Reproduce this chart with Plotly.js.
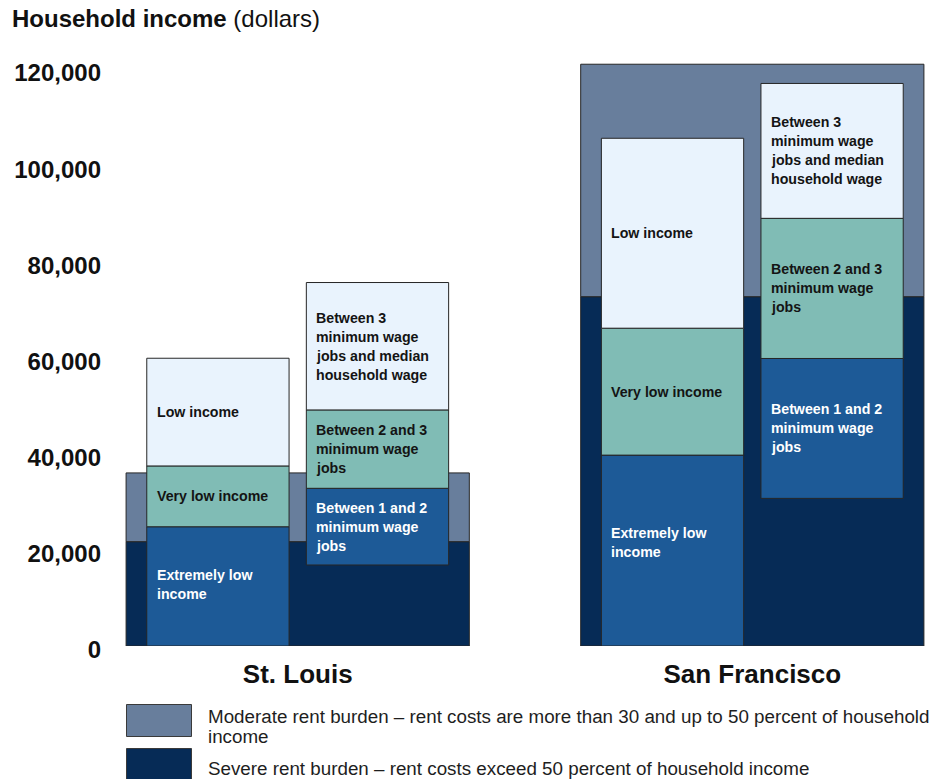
<!DOCTYPE html>
<html>
<head>
<meta charset="utf-8">
<script src="https://cdn.plot.ly/plotly-3.0.1.min.js"></script>
<style>
  html, body { margin: 0; padding: 0; background: #ffffff; }
  #chart { width: 946px; height: 779px; }
</style>
</head>
<body>
<div id="chart"></div>
<script>
// ---------------- DATA ----------------
const cities = ["St. Louis", "San Francisco"];
const cityPos = [0, 1];

// Rent burden thresholds (household income, dollars)
const severeTop   = [21700, 72650];   // severe rent burden: income below this
const moderateTop = [36000, 121000];  // moderate rent burden: up to this

// Income categories (left bar), upper bounds
const extremelyLowTop = [24800, 39700];
const veryLowTop      = [37450, 66100];
const lowTop          = [59850, 105600];

// Minimum-wage-job ranges (right bar)
const oneJobIncome    = [16850, 30700];
const twoJobsIncome   = [32800, 59800];
const threeJobsIncome = [49100, 88950];
const medianIncome    = [75600, 117000];

const yTickVals = [0, 20000, 40000, 60000, 80000, 100000, 120000];

const incomeLabels = [["Extremely low", "income"], ["Very low income"], ["Low income"]];
const wageLabels = [
  ["Between 1 and 2", "minimum wage", "jobs"],
  ["Between 2 and 3", "minimum wage", "jobs"],
  ["Between 3", "minimum wage", "jobs and median", "household wage"]
];
const legendLabels = [
  ["Moderate rent burden \u2013 rent costs are more than 30 and up to 50 percent of household", "income"],
  ["Severe rent burden \u2013 rent costs exceed 50 percent of household income"]
];

// ---------------- STYLE ----------------
const C = {
  severe: "#062b56",
  moderate: "#687e9c",
  extLow: "#1d5a97",
  teal: "#80bcb5",
  light: "#e9f3fd",
  edge: "#262626",
  dark: "#141414",
  white: "#ffffff"
};
const SANS = "Liberation Sans, Arial, Helvetica, sans-serif";

const groupW = 0.755;   // width of rent-burden block
const barW = 0.313;     // width of inner bars
const barOff = 0.1755;  // offset of inner bars from city centre

const W = 946, H = 779;
const M = { l: 110, r: 10, t: 40, b: 133 };
const plotW = W - M.l - M.r, plotH = H - M.t - M.b;
const xRange = [-0.4129, -0.4129 + plotW / 454.6];
const yRange = [0, plotH / 4.808 * 1000];

const px2x = p => (p - M.l) / plotW;
const py2y = p => (H - M.b - p) / plotH;

function diff(a, b) { return a.map((v, i) => v - b[i]); }
const zeros = cities.map(() => 0);

function bar(name, xs, top, base, width, color) {
  return {
    type: "bar", name: name, x: xs, y: diff(top, base), base: base,
    width: xs.map(() => width),
    marker: { color: color, line: { color: C.edge, width: 1 } },
    hoverinfo: "skip", showlegend: false
  };
}

const leftX = cityPos.map(p => p - barOff);
const rightX = cityPos.map(p => p + barOff);

const traces = [
  bar("Severe rent burden", cityPos, severeTop, zeros, groupW, C.severe),
  bar("Moderate rent burden", cityPos, moderateTop, severeTop, groupW, C.moderate),
  bar("Extremely low income", leftX, extremelyLowTop, zeros, barW, C.extLow),
  bar("Very low income", leftX, veryLowTop, extremelyLowTop, barW, C.teal),
  bar("Low income", leftX, lowTop, veryLowTop, barW, C.light),
  bar("Between 1 and 2 minimum wage jobs", rightX, twoJobsIncome, oneJobIncome, barW, C.extLow),
  bar("Between 2 and 3 minimum wage jobs", rightX, threeJobsIncome, twoJobsIncome, barW, C.teal),
  bar("Between 3 minimum wage jobs and median household wage", rightX, medianIncome, threeJobsIncome, barW, C.light)
];

// ---------------- LABELS ----------------
const annotations = [];
const LINE = 19;
function addLabel(xCenter, lo, hi, lines, color, yAdj) {
  const n = lines.length;
  lines.forEach((t, i) => {
    annotations.push({
      x: xCenter - barW / 2, y: (lo + hi) / 2, xref: "x", yref: "y",
      xanchor: "left", yanchor: "middle", xshift: 8,
      yshift: ((n - 1) / 2 - i) * LINE + (yAdj || 0),
      text: "<b>" + t + "</b>", showarrow: false, align: "left",
      font: { family: SANS, size: 14.2, color: color }
    });
  });
}
cityPos.forEach((p, c) => {
  addLabel(p - barOff, 0, extremelyLowTop[c], incomeLabels[0], C.white, c === 1 ? 8 : 2);
  addLabel(p - barOff, extremelyLowTop[c], veryLowTop[c], incomeLabels[1], C.dark);
  addLabel(p - barOff, veryLowTop[c], lowTop[c], incomeLabels[2], C.dark);
  addLabel(p + barOff, oneJobIncome[c], twoJobsIncome[c], wageLabels[0], C.white);
  addLabel(p + barOff, twoJobsIncome[c], threeJobsIncome[c], wageLabels[1], C.dark);
  addLabel(p + barOff, threeJobsIncome[c], medianIncome[c], wageLabels[2], C.dark);
});

// Legend (custom, large swatches)
const legendColors = [C.moderate, C.severe];
const legendBoxes = [[704.5, 736.5], [748.5, 795]];
const legendLineY = [[716, 736], [768.5]];
const shapes = legendColors.map((col, i) => ({
  type: "rect", xref: "paper", yref: "paper",
  x0: px2x(126.5), x1: px2x(191.5),
  y0: py2y(legendBoxes[i][1]), y1: py2y(legendBoxes[i][0]),
  fillcolor: col, line: { color: "#3a3a3a", width: 1 }
}));
legendLabels.forEach((lines, i) => {
  lines.forEach((t, j) => {
    annotations.push({
      xref: "paper", yref: "paper", x: px2x(206), y: py2y(legendLineY[i][j]),
      xanchor: "left", yanchor: "middle", showarrow: false, align: "left",
      text: t, font: { family: SANS, size: 18.8, color: "#1e1e1e" }
    });
  });
});

const layout = {
  width: W, height: H,
  margin: M,
  paper_bgcolor: "#ffffff", plot_bgcolor: "#ffffff",
  barmode: "overlay",
  showlegend: false,
  title: {
    text: "<b>Household income</b> (dollars)",
    font: { family: SANS, size: 24, color: "#111111" },
    xref: "container", yref: "container",
    x: 12 / W, xanchor: "left", y: 1 - 19 / H, yanchor: "middle"
  },
  xaxis: {
    range: xRange, showgrid: false, zeroline: false, showline: false,
    tickmode: "array", tickvals: cityPos, ticktext: cities.map(c => "<b>" + c + "</b>"),
    ticks: "", ticklabelstandoff: 10,
    tickfont: { family: SANS, size: 26, color: "#111111" }
  },
  yaxis: {
    range: yRange, showgrid: false, zeroline: false, showline: false,
    tickmode: "array", tickvals: yTickVals, tickformat: ",d",
    ticks: "", ticklabelstandoff: 8, ticklabelshift: 4,
    tickfont: { family: SANS, size: 24, color: "#111111", weight: "bold" }
  },
  shapes: shapes,
  annotations: annotations
};

Plotly.newPlot("chart", traces, layout, { displayModeBar: false, staticPlot: true });
</script>
</body>
</html>
